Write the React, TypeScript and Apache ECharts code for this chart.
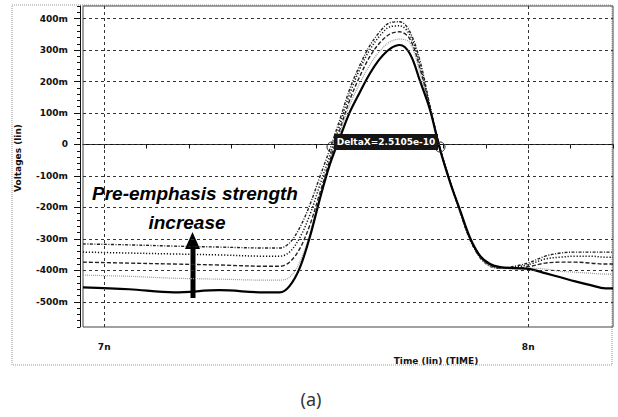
import React, { useEffect, useRef } from "react";
import * as echarts from "echarts";

// time axis in ns
const timeNs = [
  6.95, 7.059, 7.165, 7.272, 7.378, 7.414, 7.437, 7.461, 7.485, 7.508, 7.532, 7.556,
  7.579, 7.603, 7.626, 7.65, 7.674, 7.697, 7.721, 7.745, 7.768, 7.792, 7.816, 7.839,
  7.863, 7.887, 7.91, 7.934, 7.969, 8.005, 8.04, 8.076, 8.111, 8.147, 8.182, 8.2,
];

// voltages in mV, strongest pre-emphasis first
const strength4 = [
  -316, -319, -323, -326, -329, -329, -313, -265, -192, -105, -16, 80, 176, 252, 313, 358,
  387, 390, 358, 265, 125, -10, -118, -214, -304, -361, -387, -393, -387, -374, -355, -345,
  -342, -342, -342, -342,
];
const strength3 = [
  -342, -345, -348, -351, -355, -355, -342, -297, -224, -131, -35, 64, 160, 240, 300, 345,
  374, 377, 348, 252, 121, -13, -118, -211, -300, -358, -383, -393, -390, -380, -364, -358,
  -355, -355, -358, -358,
];
const strength2 = [
  -374, -377, -380, -383, -387, -387, -374, -332, -256, -157, -51, 48, 141, 217, 278, 323,
  351, 358, 335, 240, 118, -13, -118, -211, -300, -358, -383, -393, -393, -387, -377, -374,
  -374, -377, -380, -380,
];
const strength1 = [
  -415, -419, -425, -428, -431, -431, -422, -374, -284, -169, -58, 38, 125, 195, 252, 297,
  326, 335, 323, 227, 115, -16, -121, -211, -300, -358, -387, -393, -396, -393, -396, -403,
  -406, -409, -412, -412,
];
const strength0 = [
  -454, -460, -470, -463, -470, -470, -450, -393, -294, -176, -64, 22, 102, 166, 224, 272,
  304, 316, 288, 201, 112, -16, -121, -208, -297, -355, -380, -390, -393, -396, -409, -422,
  -435, -447, -457, -457,
];

const yGridValues = [-500, -400, -300, -200, -100, 0, 100, 200, 300, 400];
const xGridValues = [7, 8];
const xTickValues = [7, 7.1, 7.2, 7.3, 7.4, 7.5, 7.6, 7.7, 7.8, 7.9, 8, 8.1, 8.2];
const xLabelValues = [7, 8];
const deltaXText = "DeltaX=2.5105e-10";

const pair = (vals: number[]) => timeNs.map((t, i) => [t, vals[i]]);

export default function App() {
  const ref = useRef<HTMLDivElement>(null);
  useEffect(() => {
    const chart = echarts.init(ref.current!, null, { renderer: "svg" });
    const lbl = { fontFamily: "DejaVu Sans", fontWeight: "bold" as const, fontSize: 9, color: "#111" };
    chart.setOption({
      animation: false,
      backgroundColor: "#fff",
      grid: { left: 83, right: 5, top: 6, bottom: 90, show: true, borderColor: "#444", borderWidth: 1 },
      xAxis: {
        type: "value",
        min: 6.95,
        max: 8.2,
        offset: 5,
        axisLine: { show: true, lineStyle: { color: "#111", width: 1 } },
        axisTick: { show: true, customValues: xTickValues, length: 4, lineStyle: { color: "#111" } },
        axisLabel: { ...lbl, customValues: xLabelValues, margin: 10, formatter: (v: number) => `${Math.round(v)}n` },
        splitLine: { show: false },
      },
      yAxis: [
        {
          type: "value",
          min: -580,
          max: 440,
          interval: 20,
          offset: 3,
          axisLine: { show: true, lineStyle: { color: "#111", width: 1 } },
          axisTick: { show: true, length: 3, lineStyle: { color: "#111" } },
          axisLabel: {
            ...lbl,
            margin: 12,
            formatter: (v: number) => (v % 100 === 0 ? (v === 0 ? "0" : `${v}m`) : ""),
          },
          splitLine: { show: false },
        },
        {
          type: "value",
          min: -580,
          max: 440,
          position: "left",
          offset: 3,
          axisLine: { show: false },
          axisTick: { show: true, customValues: yGridValues, length: 6, lineStyle: { color: "#111" } },
          axisLabel: { show: false },
          splitLine: { show: false },
        },
      ],
      series: [
        {
          type: "line",
          data: [],
          silent: true,
          markLine: {
            silent: true,
            symbol: ["none", "none"],
            label: { show: false },
            lineStyle: { type: [3, 3], color: "#333", width: 1 },
            data: [
              ...yGridValues.map((v) => ({ yAxis: v })),
              ...xGridValues.map((v) => ({ xAxis: v })),
            ],
          },
        },
        {
          type: "line", data: pair(strength4), showSymbol: false, smooth: 0.35,
          lineStyle: { color: "#222", width: 1.4, type: [3, 1.5, 1, 1.5] },
        },
        {
          type: "line", data: pair(strength3), showSymbol: false, smooth: 0.35,
          lineStyle: { color: "#111", width: 1.5, type: [1.2, 1.8] },
        },
        {
          type: "line", data: pair(strength2), showSymbol: false, smooth: 0.35,
          lineStyle: { color: "#222", width: 1.4, type: [4, 2] },
        },
        {
          type: "line", data: pair(strength1), showSymbol: false, smooth: 0.35,
          lineStyle: { color: "#999", width: 1.2, type: [1, 1] },
        },
        {
          type: "line", data: pair(strength0), showSymbol: false, smooth: 0.35,
          lineStyle: { color: "#000", width: 2.2, type: "solid" },
        },
      ],
      graphic: [
        {
          type: "rect", silent: true, z: -1,
          shape: { x: 12, y: 5, width: 600, height: 360 },
          style: { fill: "none", stroke: "#999", lineWidth: 1, lineDash: [1, 1] },
        },
        {
          type: "text", x: 18, y: 158, rotation: Math.PI / 2,
          style: { text: "Voltages (lin)", font: "bold 9px 'DejaVu Sans'", fill: "#111", align: "center", verticalAlign: "middle" },
        },
        {
          type: "text", x: 436, y: 361,
          style: { text: "Time (lin) (TIME)", font: "bold 9px 'DejaVu Sans'", fill: "#111", align: "center", verticalAlign: "middle" },
        },
        {
          type: "text", x: 195, y: 193,
          style: { text: "Pre-emphasis strength", font: "italic bold 19px 'Liberation Sans'", fill: "#000", align: "center", verticalAlign: "middle" },
        },
        {
          type: "text", x: 187, y: 222,
          style: { text: "increase", font: "italic bold 19px 'Liberation Sans'", fill: "#000", align: "center", verticalAlign: "middle" },
        },
        {
          type: "rect", shape: { x: 190.5, y: 246, width: 5, height: 52 }, style: { fill: "#000" },
        },
        {
          type: "polygon", shape: { points: [[185, 249], [200, 249], [192.5, 232]] }, style: { fill: "#000" },
        },
        {
          type: "rect", shape: { x: 334, y: 134, width: 104, height: 16 }, style: { fill: "#151515" }, z: 10,
        },
        {
          type: "text", x: 386, y: 142, z: 11,
          style: { text: deltaXText, font: "bold 9px 'DejaVu Sans'", fill: "#fff", align: "center", verticalAlign: "middle" },
        },
        {
          type: "circle", shape: { cx: 332, cy: 147, r: 5 }, style: { fill: "none", stroke: "#222", lineWidth: 1 }, z: 10,
        },
        {
          type: "circle", shape: { cx: 440, cy: 147, r: 5 }, style: { fill: "none", stroke: "#222", lineWidth: 1 }, z: 10,
        },
        {
          type: "text", x: 311, y: 399,
          style: { text: "(a)", font: "18px 'Noto Sans'", fill: "#333", align: "center", verticalAlign: "middle" },
        },
      ],
    });
    return () => chart.dispose();
  }, []);
  return <div ref={ref} style={{ position: "fixed", left: 0, top: 0, width: 618, height: 417 }} />;
}
